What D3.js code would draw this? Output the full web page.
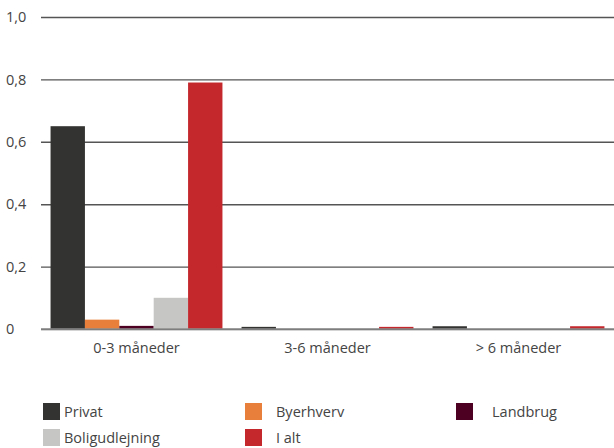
<!DOCTYPE html>
<html>
<head>
<meta charset="utf-8">
<script src="https://cdn.jsdelivr.net/npm/d3@7"></script>
<style>
  html, body { margin: 0; padding: 0; background: #fff; }
  svg { display: block; }
  text { font-family: "Open Sans", "Liberation Sans", Arial, sans-serif; font-weight: 400; fill: #444; }
</style>
</head>
<body>
<svg id="chart" width="614" height="448"></svg>
<script>
// Periods on the x axis
const categories = ["0-3 måneder", "3-6 måneder", "> 6 måneder"];
// Series
const seriesNames = ["Privat", "Byerhverv", "Landbrug", "Boligudlejning", "I alt"];
const seriesColors = ["#333331", "#e8803c", "#4e0022", "#c6c6c4", "#c4282d"];
const privat = [0.65, 0.003, 0.005];
const byerhverv = [0.03, 0, 0];
const landbrug = [0.01, 0, 0];
const boligudlejning = [0.10, 0, 0];
const iAlt = [0.79, 0.003, 0.005];
const yTicks = [0, 0.2, 0.4, 0.6, 0.8, 1.0];

const values = [privat, byerhverv, landbrug, boligudlejning, iAlt];

const svg = d3.select("#chart");
const margin = { left: 41, right: 0, top: 17, bottom: 119 };
const W = 614, H = 448;

const x0 = d3.scaleBand().domain(categories)
  .range([margin.left, W - margin.right]).paddingInner(0.1).paddingOuter(0.05);
const x1 = d3.scaleBand().domain(seriesNames).range([0, x0.bandwidth()]).padding(0);
const y = d3.scaleLinear().domain([0, 1]).range([H - margin.bottom, margin.top]);

const fmt = v => v === 0 ? "0" : d3.format(".1f")(v).replace(".", ",");

// Horizontal grid lines with tick labels
const yAxis = svg.append("g")
  .attr("transform", `translate(${margin.left},0)`)
  .call(d3.axisLeft(y).tickValues(yTicks).tickFormat(fmt).tickSize(-(W - margin.left)).tickPadding(10));
yAxis.select(".domain").remove();
yAxis.selectAll(".tick line").attr("stroke", "#555").attr("stroke-width", 1.4);
yAxis.selectAll(".tick text").attr("font-size", 14.5).attr("fill", "#444")
  .attr("text-anchor", "start").attr("x", -35);

// Bars
const groups = svg.append("g").selectAll("g").data(categories).join("g")
  .attr("transform", d => `translate(${x0(d)},0)`);
groups.selectAll("rect")
  .data((c, ci) => seriesNames.map((s, si) => ({ s, si, v: values[si][ci] })))
  .join("rect")
  .attr("x", d => x1(d.s))
  .attr("width", x1.bandwidth())
  .attr("y", d => y(d.v) - (d.v > 0 && d.v < 0.01 ? 1.2 : 0))
  .attr("height", d => y(0) - y(d.v) + (d.v > 0 && d.v < 0.01 ? 1.2 : 0))
  .attr("fill", d => seriesColors[d.si]);

// Zero line drawn above the bars
svg.append("line")
  .attr("x1", margin.left).attr("x2", W)
  .attr("y1", y(0)).attr("y2", y(0))
  .attr("stroke", "#8c8c8c").attr("stroke-width", 1.4);

// Category labels
const xAxis = svg.append("g")
  .attr("transform", `translate(0,${y(0)})`)
  .call(d3.axisBottom(x0).tickSize(0).tickPadding(14));
xAxis.select(".domain").remove();
xAxis.selectAll(".tick text").attr("font-size", 14.5).attr("fill", "#444");

// Legend
const legendPos = [
  [43, 403], [245, 403], [456, 403],
  [43, 429], [245, 429]
];
const textOffset = [21, 31, 36, 21, 31];
const legend = svg.append("g").selectAll("g").data(seriesNames).join("g")
  .attr("transform", (d, i) => `translate(${legendPos[i][0]},${legendPos[i][1]})`);
legend.append("rect").attr("width", 17).attr("height", 17)
  .attr("fill", (d, i) => seriesColors[i]);
legend.append("text").attr("x", (d, i) => textOffset[i]).attr("y", 14)
  .attr("font-size", 14.5).text(d => d);
</script>
</body>
</html>
